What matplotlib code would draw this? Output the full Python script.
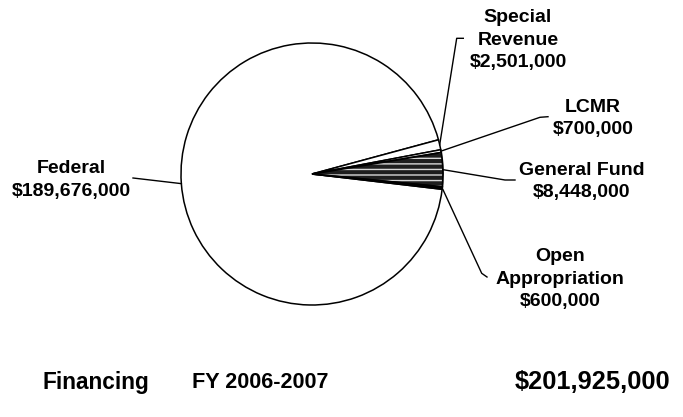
import numpy as np
import matplotlib.pyplot as plt
from matplotlib.patches import Wedge

plt.rcParams["font.family"] = ["Liberation Sans", "DejaVu Sans"]
plt.rcParams["font.weight"] = "bold"

# financing sources, clockwise from the Federal slice
sources = ["Federal", "Special\nRevenue", "LCMR", "General Fund", "Open\nAppropriation"]
amounts = [189676000, 2501000, 700000, 8448000, 600000]
total = 201925000

fig = plt.figure(figsize=(6.83, 4.17), dpi=100)
ax = fig.add_axes([0, 0, 1, 1])

# pie geometry in pixel units (y up)
H = 417
cx, cy, r = 312, H - 174, 131
colors = ["white", "white", "white", "#1e1e1e", "black"]

wedges, _ = ax.pie(amounts, colors=colors, startangle=353.3, counterclock=False,
                   center=(cx, cy), radius=r, frame=True,
                   wedgeprops=dict(edgecolor="black", linewidth=1.1))

# textured general fund slice
gf = wedges[3]
gf.set_edgecolor("#d8d8d8")
gf.set_linewidth(0)
gf.set_hatch("---")
ax.add_patch(Wedge((cx, cy), r, gf.theta1, gf.theta2, fill=False,
                   edgecolor="black", linewidth=1.3))

# label positions and leader elbows (pixel coords, y down)
label_xy = [(71, 180), (518, 40), (593, 118.5), (582, 181.5), (560, 279)]
elbows = [[(133, 178)],
          [(456.7, 38.3), (463.3, 38.3)],
          [(540, 117.3), (548, 116.7)],
          [(505, 180), (515, 180)],
          [(481.7, 273.3), (487, 277)]]

for w, name, amt, (lx, ly), elb in zip(wedges, sources, amounts, label_xy, elbows):
    mid = np.deg2rad((w.theta1 + w.theta2) / 2)
    px, py = cx + r * np.cos(mid), cy + r * np.sin(mid)
    xs = [px] + [e[0] for e in elb]
    ys = [py] + [H - e[1] for e in elb]
    ax.plot(xs, ys, color="black", linewidth=1.0)
    ax.text(lx, H - ly, f"{name}\n${amt:,}", ha="center", va="center",
            fontsize=14, linespacing=1.4)

ax.text(43, H - 382, "Financing", ha="left", va="center", fontsize=16.3)
ax.text(192, H - 382, "FY 2006-2007", ha="left", va="center", fontsize=15.6)
ax.text(670, H - 382, f"${total:,}", ha="right", va="center", fontsize=18.3)

ax.set_xlim(0, 683)
ax.set_ylim(0, H)
ax.set_aspect("equal")
ax.axis("off")

fig.savefig("out.png", dpi=100)
